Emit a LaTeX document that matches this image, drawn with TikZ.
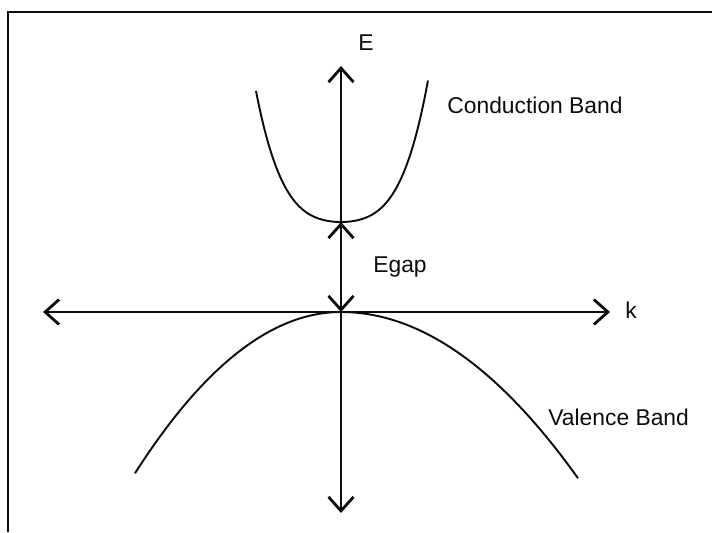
\documentclass[tikz,border=0pt]{standalone}
\usepackage{fontspec}
\setmainfont{Liberation Sans}
\usepackage{tikz}
\usetikzlibrary{arrows.meta,positioning,calc}
\definecolor{inkblack}{RGB}{12,12,12}

\begin{document}
\begin{tikzpicture}[
    axis/.style={line width=1.6pt,inkblack,{Straight Barb[length=0.28cm,width=0.5cm]}-{Straight Barb[length=0.28cm,width=0.5cm]}},
    band/.style={line width=1.1pt,inkblack},
    lbl/.style={font=\fontsize{13}{15}\selectfont,inner sep=0pt,anchor=base west,inkblack}
]
    \useasboundingbox (-6.82,-4.40) rectangle (7.42,6.24);
    % Frame (only top and left edges are in view)
    \draw[line width=0.9pt,inkblack] (-6.66,-4.40) -- (-6.66,6.00) -- (7.42,6.00);

    % Axes E and k
    \coordinate (Etop) at (0,4.92);
    \coordinate (Ebot) at (0,-4.02);
    \coordinate (kleft) at (-5.96,0);
    \coordinate (kright) at (5.38,0);
    \draw[axis] (kleft) -- (kright);
    \draw[axis] (Ebot) -- (Etop);
    \node[lbl] (Elabel) at (0.34,5.24) {E};
    \node[lbl] (klabel) at (5.68,-0.12) {k};

    % Conduction band
    \draw[band] plot[domain=-1.70:1.74,samples=80,smooth] (\x,{1.8+0.30*\x*\x+0.21*\x*\x*\x*\x});
    \node[lbl] (cblabel) at (2.12,3.98) {Conduction Band};

    % Valence band
    \draw[band] plot[domain=-4.12:0,samples=60,smooth] (\x,{-0.19*\x*\x});
    \draw[band] plot[domain=0:4.74,samples=60,smooth] (\x,{-0.148*\x*\x});
    \node[lbl] (vblabel) at (4.14,-2.26) {Valence Band};

    % Energy gap
    \coordinate (cbmin) at (0,1.8);
    \coordinate (vbmax) at (0,0);
    \draw[axis] (cbmin) -- (vbmax);
    \node[lbl] (gaplabel) at (0.64,0.80) {Egap};
\end{tikzpicture}
\end{document}
